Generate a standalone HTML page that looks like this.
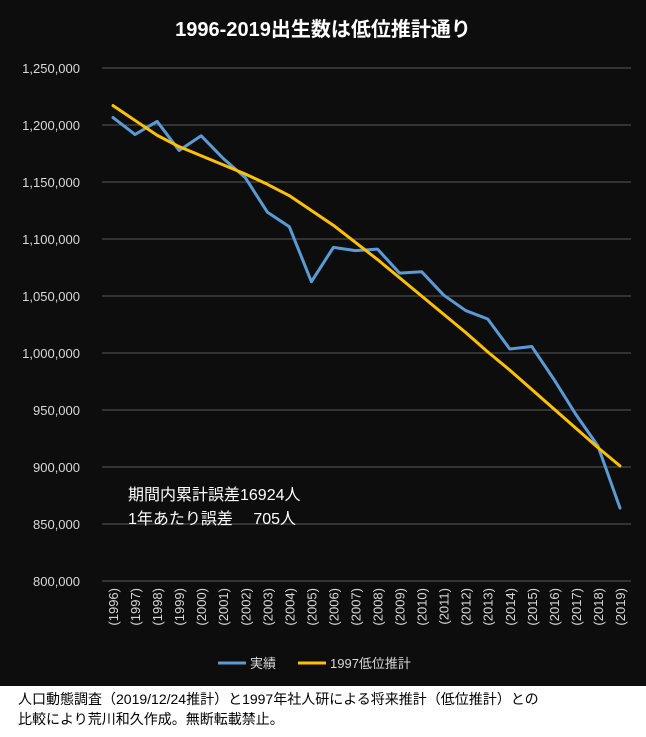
<!DOCTYPE html>
<html><head><meta charset="utf-8"><style>
html,body{margin:0;padding:0;background:#fff;}
body{width:646px;height:737px;overflow:hidden;font-family:"Liberation Sans","Noto Sans CJK JP",sans-serif;}
#chart{position:absolute;left:0;top:0;width:646px;height:686px;background:#0d0d0d;}
#cap{position:absolute;left:18px;top:689px;font-size:14px;line-height:20px;color:#000;white-space:nowrap;font-family:"Liberation Sans","Noto Sans CJK JP",sans-serif;}
</style></head><body>
<div id="chart">
<svg id="svg" width="646" height="686" font-family="Liberation Sans, Noto Sans CJK JP, sans-serif">
<text x="323" y="36" text-anchor="middle" fill="#fff" font-size="20" font-weight="bold">1996-2019出生数は低位推計通り</text>
<g id="grid"></g><g id="ylab"></g><g id="xlab"></g><g id="series"></g>
<text x="128" y="500" fill="#fff" font-size="16">期間内累計誤差16924人</text>
<text x="128" y="524" fill="#fff" font-size="16">1年あたり誤差　  705人</text>
<g>
<line x1="218" y1="663" x2="246" y2="663" stroke="#5b9bd5" stroke-width="3"/>
<text x="250" y="668" fill="#d9d9d9" font-size="13">実績</text>
<line x1="298" y1="663" x2="326" y2="663" stroke="#ffc000" stroke-width="3"/>
<text x="330" y="668" fill="#d9d9d9" font-size="13">1997低位推計</text>
</g>
</svg>
</div>
<div id="cap">人口動態調査（2019/12/24推計）と1997年社人研による将来推計（低位推計）との<br>比較により荒川和久作成。無断転載禁止。</div>
<script>
const categories=["1996","1997","1998","1999","2000","2001","2002","2003","2004","2005","2006","2007","2008","2009","2010","2011","2012","2013","2014","2015","2016","2017","2018","2019"];
const actualValues=[1206555,1191665,1203147,1177669,1190547,1170662,1153855,1123610,1110721,1062530,1092674,1089818,1091156,1070035,1071304,1050806,1037231,1029816,1003539,1005677,976978,946065,918400,864000];
const projectionValues=[1217000,1204000,1191000,1181000,1173000,1165000,1157000,1148000,1138000,1125000,1112000,1097000,1082000,1066000,1050000,1034000,1018000,1001000,985000,968000,951000,934000,917000,901000];
const yTicks=[800000,850000,900000,950000,1000000,1050000,1100000,1150000,1200000,1250000];
const NS="http://www.w3.org/2000/svg";
const plotLeft=102,plotRight=631,yMin=800000,yMax=1250000,plotTop=68,plotBottom=581;
function yPos(v){return plotBottom-(v-yMin)/(yMax-yMin)*(plotBottom-plotTop);}
const step=(plotRight-plotLeft)/categories.length;
function xPos(i){return plotLeft+step*(i+0.5);}
const grid=document.getElementById('grid'),ylab=document.getElementById('ylab'),xlab=document.getElementById('xlab'),series=document.getElementById('series');
yTicks.forEach(t=>{
 const l=document.createElementNS(NS,'line');
 l.setAttribute('x1',plotLeft);l.setAttribute('x2',plotRight);l.setAttribute('y1',yPos(t));l.setAttribute('y2',yPos(t));
 l.setAttribute('stroke','#595959');l.setAttribute('stroke-width','1');
 
 
 grid.appendChild(l);
 const tx=document.createElementNS(NS,'text');
 tx.setAttribute('x',80);tx.setAttribute('y',yPos(t)+5);tx.setAttribute('text-anchor','end');
 tx.setAttribute('fill','#d9d9d9');tx.setAttribute('font-size','13');
 tx.textContent=t.toLocaleString('en-US');
 
 
 ylab.appendChild(tx);
});
categories.forEach((c,i)=>{
 const tx=document.createElementNS(NS,'text');
 const xx=xPos(i)+5,yy=588;
 tx.setAttribute('x',xx);tx.setAttribute('y',yy);tx.setAttribute('text-anchor','end');
 tx.setAttribute('transform','rotate(-90 '+xx+' '+yy+')');
 tx.setAttribute('fill','#d9d9d9');tx.setAttribute('font-size','13');
 tx.textContent='('+c+')';
 
 
 xlab.appendChild(tx);
});
function drawLine(vals,color,name){
 const p=document.createElementNS(NS,'polyline');
 p.setAttribute('points',vals.map((v,i)=>xPos(i)+','+yPos(v)).join(' '));
 p.setAttribute('fill','none');p.setAttribute('stroke',color);p.setAttribute('stroke-width','3');
 p.setAttribute('stroke-linejoin','round');p.setAttribute('stroke-linecap','round');
 
 
 series.appendChild(p);
}
drawLine(actualValues,'#5b9bd5','actual-line');
drawLine(projectionValues,'#ffc000','projection-line');
</script>
</body></html>
